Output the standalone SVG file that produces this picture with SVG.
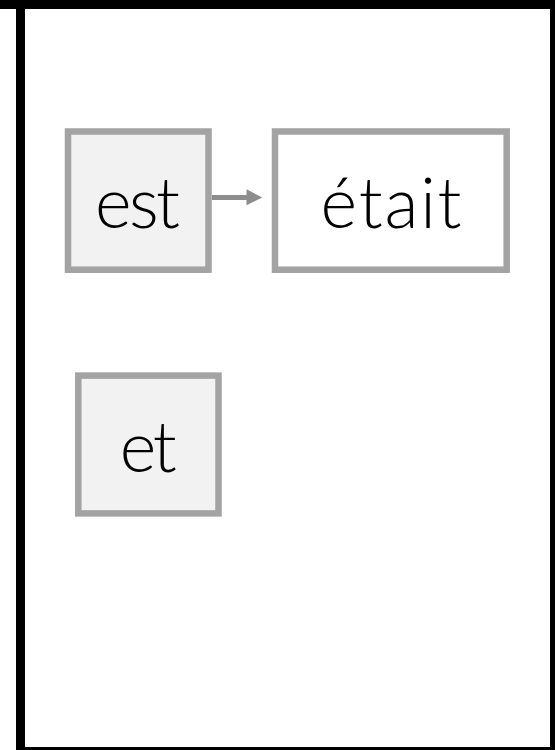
<svg xmlns="http://www.w3.org/2000/svg" width="555" height="750" viewBox="0 0 555 750">
<style>
.box{stroke:#a3a3a3;stroke-width:6.5}
.hl{fill:#f2f2f2}
.pl{fill:#ffffff}
.lbl{font-family:"Century Gothic","Lato","Liberation Sans",sans-serif;font-weight:300;font-size:70px;fill:#000000;text-anchor:middle}
</style>
<rect x="0" y="0" width="555" height="750" fill="#ffffff"/>
<g id="frame">
<rect x="0" y="0" width="555" height="9" fill="#000000"/>
<rect x="16" y="0" width="9" height="750" fill="#000000"/>
<rect x="550" y="0" width="5" height="750" fill="#000000"/>
<rect x="16" y="747" width="539" height="3" fill="#000000"/>
</g>
<g id="connectors">
<line x1="212" y1="197.5" x2="247" y2="197.5" stroke="#8c8c8c" stroke-width="5"/>
<polygon points="246.5,189.3 262.3,197.5 246.5,205.2" fill="#8c8c8c"/>
</g>
<g id="node-est">
<rect class="box hl" x="68" y="131.5" width="140.5" height="138.2"/>
<text class="lbl" x="137.5" y="228" textLength="85" lengthAdjust="spacing">est</text>
</g>
<g id="node-etait">
<rect class="box pl" x="275" y="131.5" width="231.7" height="138.2"/>
<text class="lbl" x="391" y="228" textLength="141" lengthAdjust="spacing">était</text>
</g>
<g id="node-et">
<rect class="box hl" x="78.3" y="375.6" width="140.2" height="137.8"/>
<text class="lbl" x="148.3" y="471.7" textLength="57" lengthAdjust="spacing">et</text>
</g>
</svg>
